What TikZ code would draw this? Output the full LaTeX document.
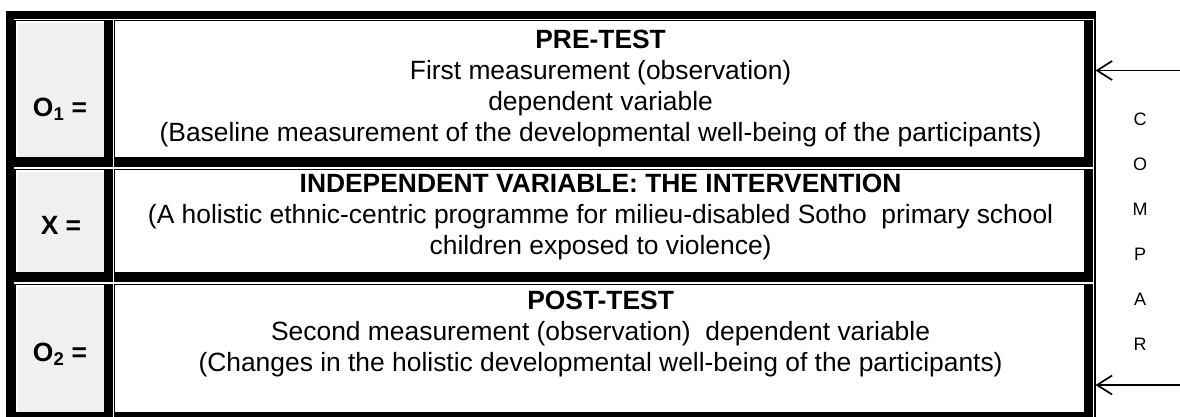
\documentclass[tikz,border=0pt]{standalone}
\usepackage{fontspec}
\setmainfont{Liberation Sans}
\usetikzlibrary{arrows.meta}
\definecolor{cellgray}{RGB}{240,240,240}
\newcommand{\tcell}[5]{%
  \fill[black] (#1-3.2,#2-3.2) rectangle (#3+8.7,#4+9.4);
  \fill[white] (#1-2,#2-2) rectangle (#3,#4);
  \fill[#5] (#1,#2) rectangle (#3,#4);}
\tikzset{
  maintext/.style={align=center, inner sep=0pt, anchor=north,
    font=\fontsize{26.4}{31}\selectfont},
  lbl/.style={inner sep=0pt, anchor=base, font=\fontsize{26.4}{31}\selectfont\bfseries},
  letter/.style={inner sep=0pt, font=\fontsize{18}{20}\selectfont},
  cmparrow/.style={line width=1.7pt, -{Straight Barb[length=15pt,width=19pt,line width=1.7pt]}}
}
\begin{document}
\begin{tikzpicture}[x=1pt,y=-1pt]
\useasboundingbox (0,0) rectangle (1180,416);
\clip (0,0) rectangle (1180,416);
% outer table frame
\fill[black] (6,11) rectangle (1096,440);
\fill[white] (13.8,19.2) rectangle (1094.2,438);
% cells
\tcell{17.5}{23}{104}{157.3}{cellgray}
\tcell{117.3}{23}{1084}{157.3}{white}
\tcell{17.5}{172}{104}{272.3}{cellgray}
\tcell{117.3}{172}{1084}{272.3}{white}
\tcell{17.5}{287}{104}{412}{cellgray}
\tcell{117.3}{287}{1084}{412}{white}
% labels
\node[lbl] (o1) at (60,116.5) {O\textsubscript{1} =};
\node[lbl] (x) at (61,234.5) {X =};
\node[lbl] (o2) at (60,361.5) {O\textsubscript{2} =};
% texts
\node[maintext] (pre) at (600.6,30) {\textbf{PRE-TEST}\\First measurement (observation)\\dependent variable\\(Baseline measurement of the developmental well-being of the participants)};
\node[maintext] (iv) at (600.6,174) {\textbf{INDEPENDENT VARIABLE: THE INTERVENTION}\\(A holistic ethnic-centric programme for milieu-disabled Sotho\ \ primary school\\children exposed to violence)};
\node[maintext] (post) at (600.6,291) {\textbf{POST-TEST}\\Second measurement (observation)\ \ dependent variable\\(Changes in the holistic developmental well-being of the participants)};
% compare letters
\node[letter] (c1) at (1140,119) {C};
\node[letter] (c2) at (1140,164) {O};
\node[letter] (c3) at (1140,209) {M};
\node[letter] (c4) at (1140,254) {P};
\node[letter] (c5) at (1140,299) {A};
\node[letter] (c6) at (1140,344) {R};
% arrows
\coordinate (a1s) at (1180,70.5);
\coordinate (a1e) at (1095.5,70.5);
\coordinate (a2s) at (1180,385);
\coordinate (a2e) at (1095.5,385);
\draw[cmparrow] (a1s) -- (a1e);
\draw[cmparrow] (a2s) -- (a2e);
\end{tikzpicture}
\end{document}
